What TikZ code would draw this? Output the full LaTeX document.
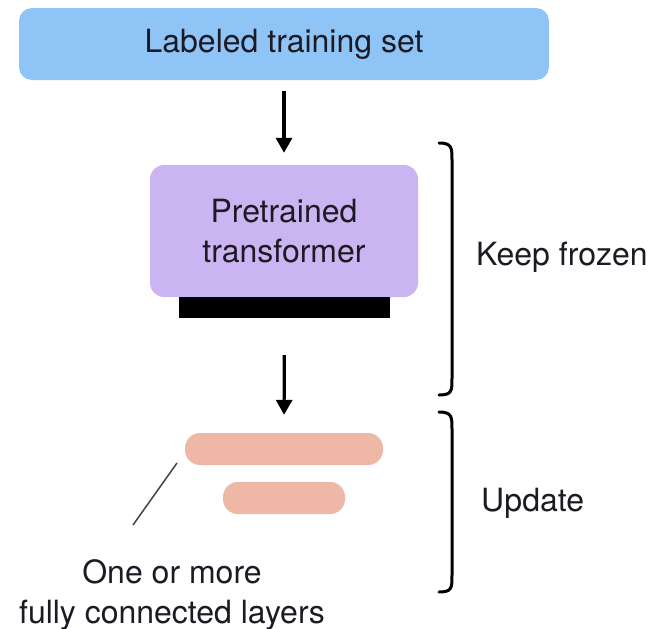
\documentclass[tikz,border=0pt]{standalone}
\usepackage{fontspec}
\setmainfont{TeX Gyre Heros}
\usetikzlibrary{arrows.meta}
\definecolor{tsblue}{HTML}{8EC4F6}
\definecolor{tspurple}{HTML}{CAB5F2}
\definecolor{tspink}{HTML}{EFB7A6}
\definecolor{tstext}{HTML}{1E1A24}
\definecolor{tsgray}{HTML}{444444}
\begin{document}
\begin{tikzpicture}[x=1pt,y=-1pt,
  every node/.style={text=tstext, font=\fontsize{32}{40}\selectfont},
  boxnode/.style={inner sep=0pt, align=center},
  fclayer/.style={fill=tspink, rounded corners=15, inner sep=0pt, minimum height=32},
  arrowline/.style={line width=3.2, -{Triangle[length=15,width=16]}},
  bracketline/.style={line width=3, line cap=round},
  pointer/.style={line width=1.5, tsgray}]
\useasboundingbox (0,0) rectangle (654,629);
\fill[white] (0,0) rectangle (654,629);

\node[boxnode, fill=tsblue, rounded corners=13, minimum width=530, minimum height=72] (train) at (284,44) {Labeled training set};
\node[boxnode, fill=tspurple, rounded corners=14, minimum width=268, minimum height=132] (pt) at (284,231) {Pretrained\\transformer};
\node[fill=black, inner sep=0pt, minimum width=211, minimum height=21] (head) at (284.5,307.5) {};
\node[fclayer, minimum width=198] (fc1) at (284,449) {};
\node[fclayer, minimum width=122] (fc2) at (284,498) {};

\draw[arrowline, shorten <=11, shorten >=12] (train.south) -- (pt.north);
\draw[arrowline, shorten <=37, shorten >=18] (head.south) -- (fc1.north);

\coordinate (ptrA) at (133,525);
\coordinate (ptrB) at (177,463);
\draw[pointer] (ptrA) -- (ptrB);

\node[anchor=base] (lab1) at (172,583) {One or more};
\node[anchor=base] (lab2) at (172,623) {fully connected layers};

% brackets
\draw[bracketline] (439,143) .. controls (452,143) and (452,148) .. (452,160) -- (452,378) .. controls (452,391) and (452,395) .. (439,395);
\draw[bracketline] (439,412) .. controls (452,412) and (452,417) .. (452,429) -- (452,575) .. controls (452,588) and (452,592) .. (439,592);

\node[anchor=west, inner sep=0pt] (frozen) at (476,257) {Keep frozen};
\node[anchor=west, inner sep=0pt] (update) at (481,503) {Update};
\end{tikzpicture}
\end{document}
